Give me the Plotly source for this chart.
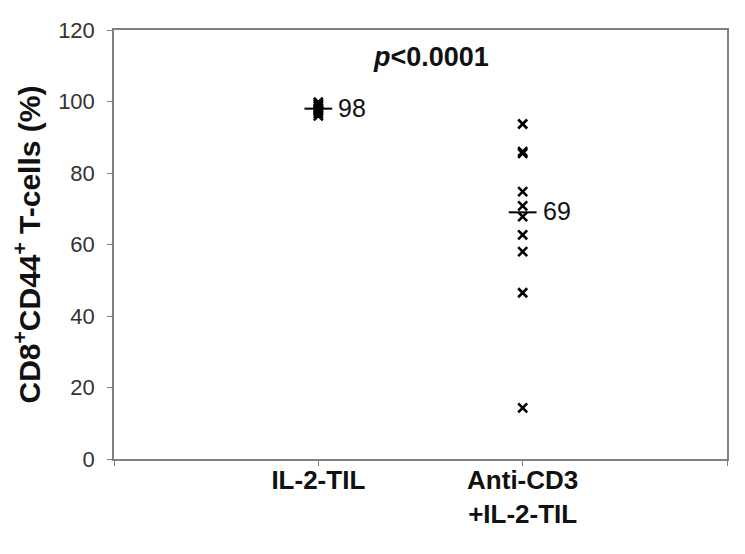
import plotly.graph_objects as go

categories = ["IL-2-TIL", "Anti-CD3<br>+IL-2-TIL"]
cat_pos = [1, 2]
il2_values = [99.8, 99.3, 98.8, 98.2, 97.6, 97.2, 96.6, 96.0]
anticd3_values = [93.7, 86.0, 85.5, 74.8, 70.8, 67.8, 62.7, 58.0, 46.5, 14.3]
medians = [98, 69]
median_labels = ["98", "69"]
y_ticks = [0, 20, 40, 60, 80, 100, 120]

FONT = "Arial, Liberation Sans, sans-serif"
fig = go.Figure()

groups = [il2_values, anticd3_values]
for pos, vals in zip(cat_pos, groups):
    fig.add_trace(go.Scatter(
        x=[pos] * len(vals), y=vals, mode="markers",
        marker=dict(symbol="x-thin", size=9, line=dict(width=2.6, color="black"), color="black"),
        showlegend=False, hoverinfo="y"))

half = 0.068
for pos, m, lab in zip(cat_pos, medians, median_labels):
    fig.add_trace(go.Scatter(
        x=[pos - half, pos + half], y=[m, m], mode="lines",
        line=dict(color="black", width=2), showlegend=False, hoverinfo="skip"))
    fig.add_annotation(x=pos + half, y=m, text=lab, showarrow=False,
                       xanchor="left", xshift=4, yshift=1,
                       font=dict(family=FONT, size=25, color="#111111"))

fig.add_annotation(x=1.55, y=112.4, text="<b><i>p</i>&lt;0.0001</b>", showarrow=False,
                   xanchor="center", yanchor="middle",
                   font=dict(family=FONT, size=27, color="#111111"))

# page body has an 8px default margin, so the figure is sized to fit the window
fig.update_layout(
    width=737, height=546,
    margin=dict(l=106, r=18, t=22, b=95),
    paper_bgcolor="white", plot_bgcolor="white",
    font=dict(family=FONT, color="#222222"),
)
fig.update_xaxes(
    range=[0, 3], tickvals=[0, 1, 2, 3],
    ticktext=["", "<b>" + categories[0] + "</b>", "<b>" + categories[1] + "</b>", ""],
    showgrid=False, zeroline=False, showline=True, linecolor="#7f7f7f", linewidth=1.5,
    mirror=True, ticks="outside", ticklen=5, tickcolor="#7f7f7f",
    tickfont=dict(family=FONT, size=26, color="#111111"),
    ticklabelstandoff=-8, automargin=False,
)
fig.update_yaxes(
    range=[0, 120], tickvals=y_ticks,
    showgrid=False, zeroline=False, showline=True, linecolor="#7f7f7f", linewidth=1.5,
    mirror=True, ticks="outside", ticklen=5, tickcolor="#7f7f7f",
    tickfont=dict(family=FONT, size=22, color="#333333"),
    ticklabelstandoff=8, automargin=False,
    title=dict(text="<b>CD8<sup>+</sup>CD44<sup>+</sup> T-cells (%)</b>",
               font=dict(family=FONT, size=30, color="#111111"), standoff=12),
)

fig.write_html("out.html")
